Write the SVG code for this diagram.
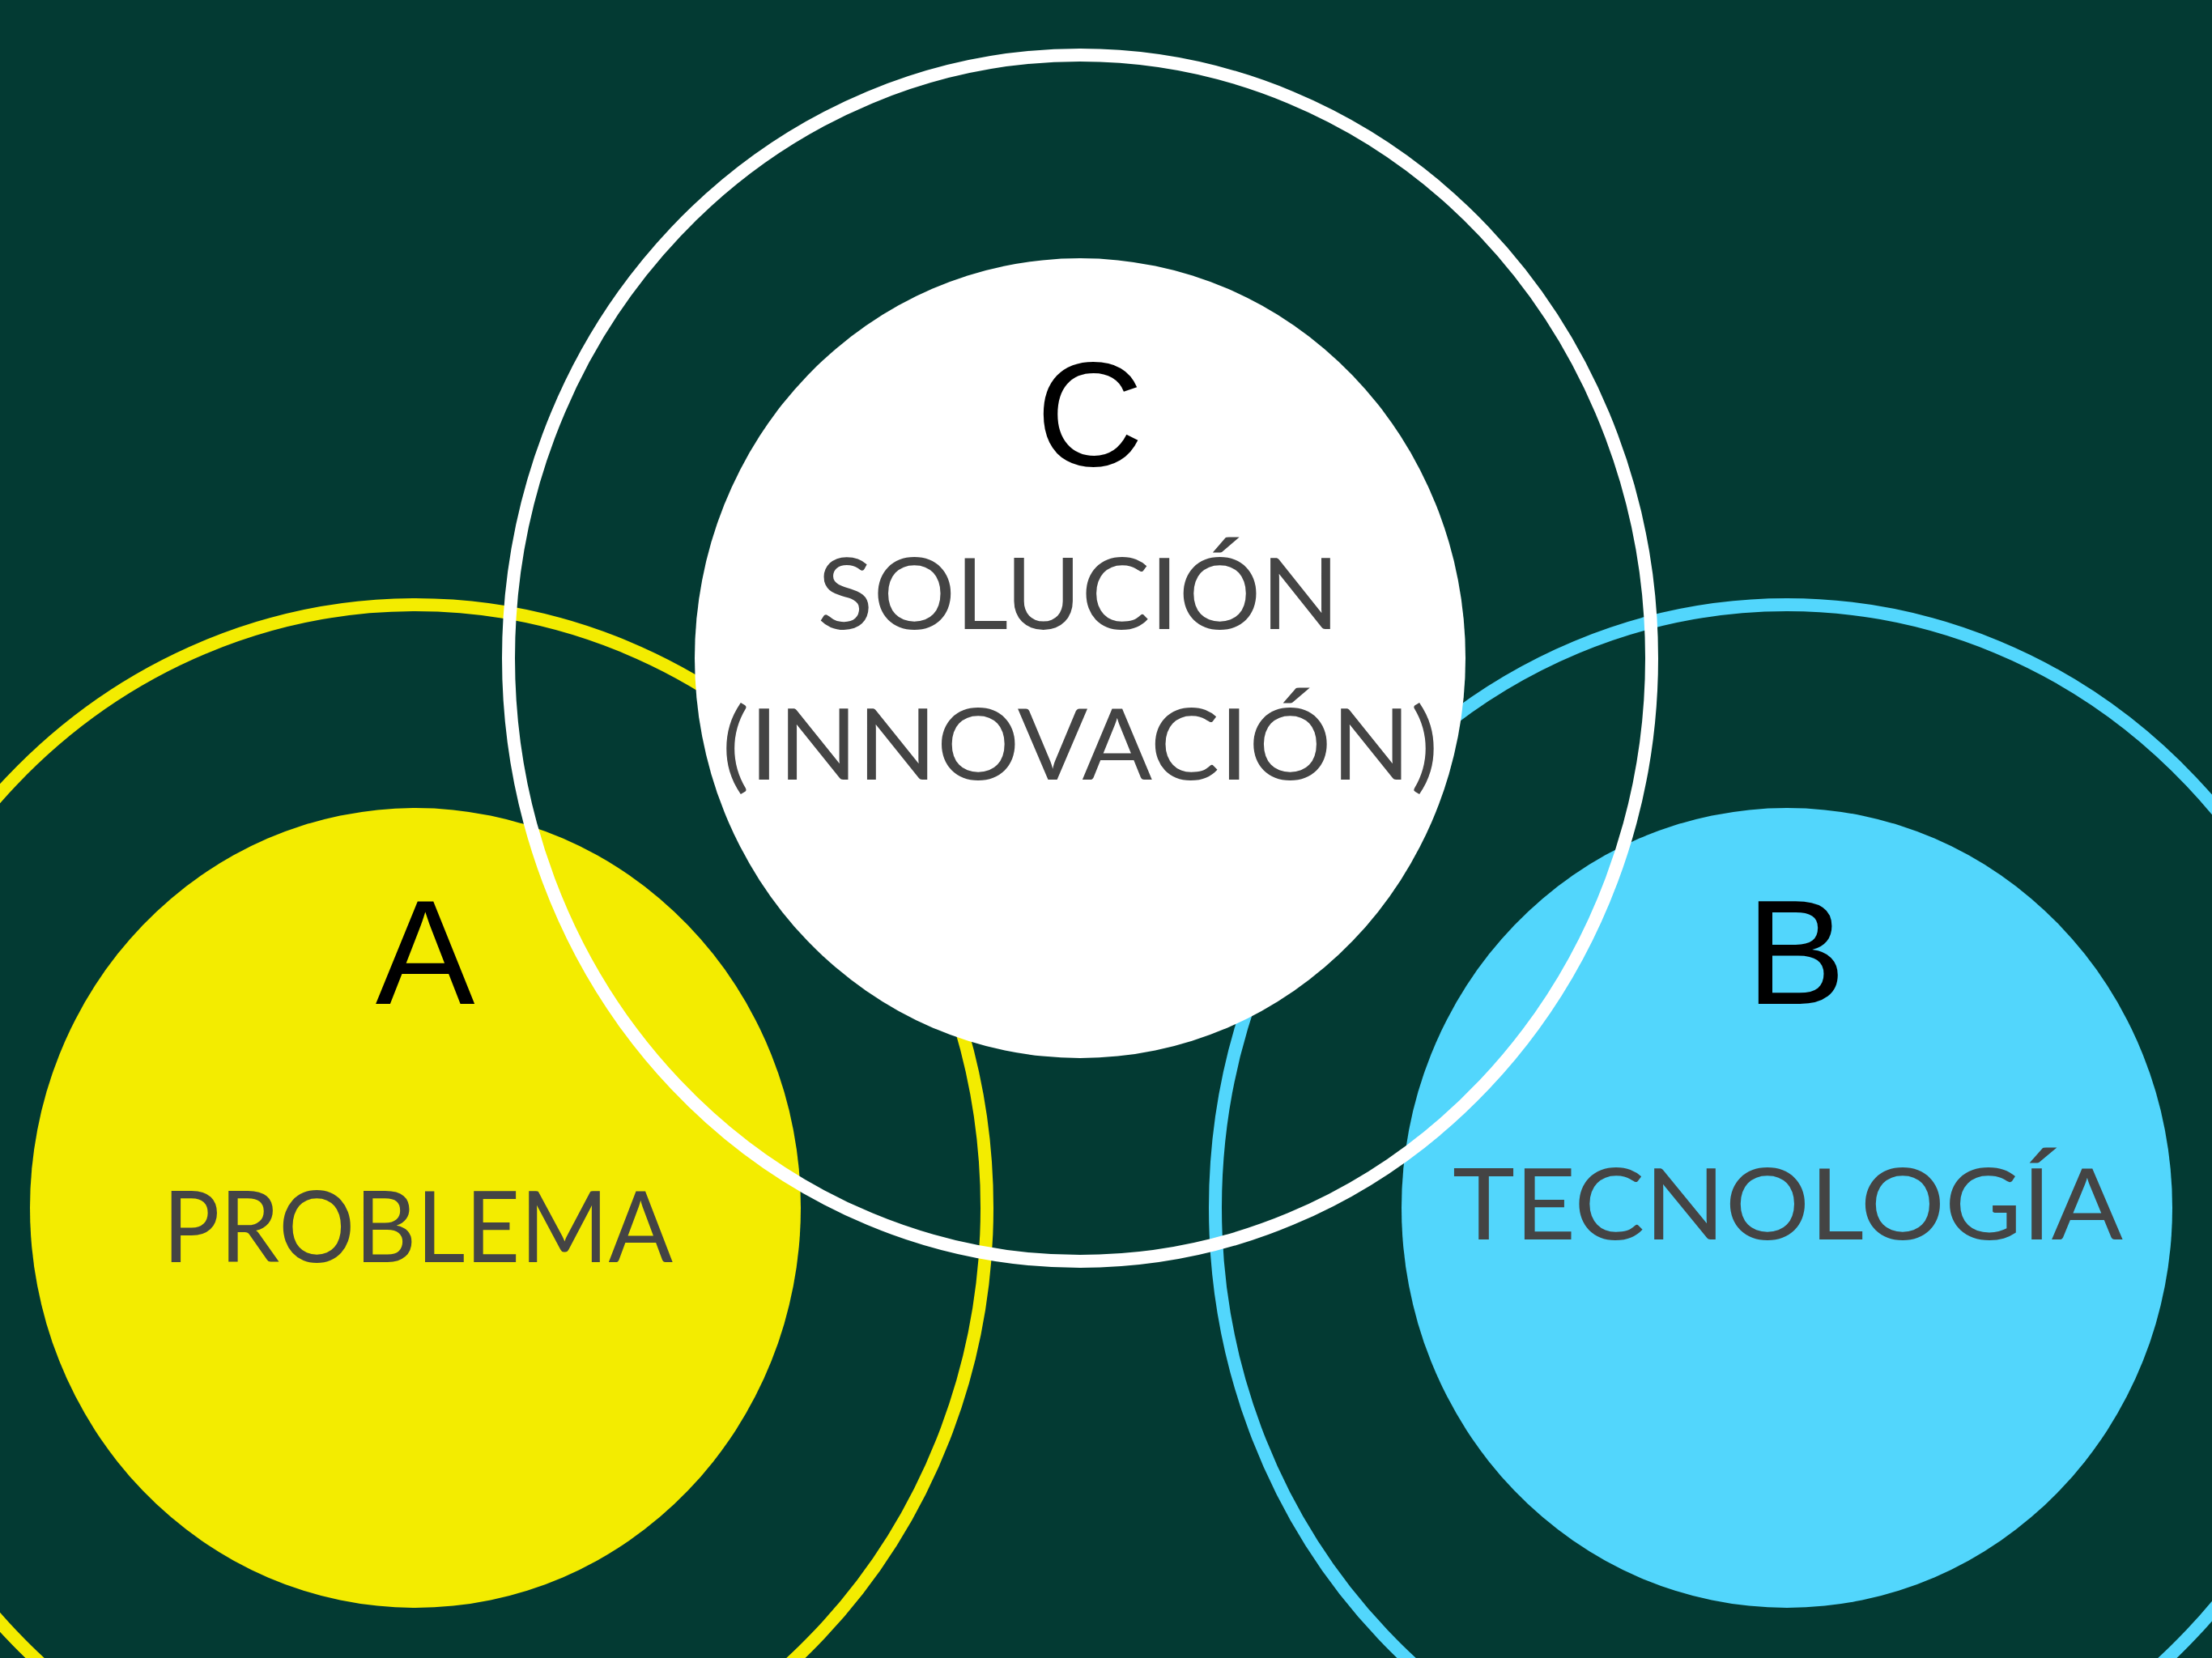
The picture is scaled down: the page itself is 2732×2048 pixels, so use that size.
<svg xmlns="http://www.w3.org/2000/svg" width="2732" height="2048" viewBox="0 0 2732 2048">
<style>
.ring{fill:none;stroke-width:16}
.letter{font-family:"Liberation Sans",Arial,sans-serif;font-size:184px;fill:#000;text-anchor:middle}
.label{font-family:Lato,"Open Sans",sans-serif;font-size:123px;fill:#444444;text-anchor:middle}
</style>
<rect x="0" y="0" width="2732" height="2048" fill="#033a33"/>
<g id="rings-back">
<ellipse id="ring-a" class="ring" cx="513" cy="1492" rx="706" ry="745" stroke="#f3ec00"/>
<ellipse id="ring-b" class="ring" cx="2207" cy="1492" rx="706" ry="745" stroke="#52d6fc"/>
</g>
<g id="node-a">
<ellipse cx="513" cy="1492" rx="476" ry="494" fill="#f3ec00"/>
</g>
<g id="node-b">
<ellipse cx="2207" cy="1492" rx="476" ry="494" fill="#52d6fc"/>
</g>
<g id="node-c">
<ellipse id="ring-c" class="ring" cx="1334" cy="813" rx="706" ry="745" stroke="#ffffff"/>
<ellipse cx="1334" cy="813" rx="476" ry="494" fill="#ffffff"/>
</g>
<g id="labels-a">
<text class="letter" x="525" y="1240">A</text>
<text class="label" x="516" y="1559" textLength="630" lengthAdjust="spacingAndGlyphs">PROBLEMA</text>
</g>
<g id="labels-b">
<text class="letter" x="2218" y="1240">B</text>
<text class="label" x="2208" y="1531" textLength="828" lengthAdjust="spacingAndGlyphs">TECNOLOGÍA</text>
</g>
<g id="labels-c">
<text class="letter" x="1346" y="575">C</text>
<text class="label" x="1332" y="777" textLength="645" lengthAdjust="spacingAndGlyphs">SOLUCIÓN</text>
<text class="label" x="1334" y="963" textLength="885" lengthAdjust="spacingAndGlyphs">(INNOVACIÓN)</text>
</g>
</svg>
